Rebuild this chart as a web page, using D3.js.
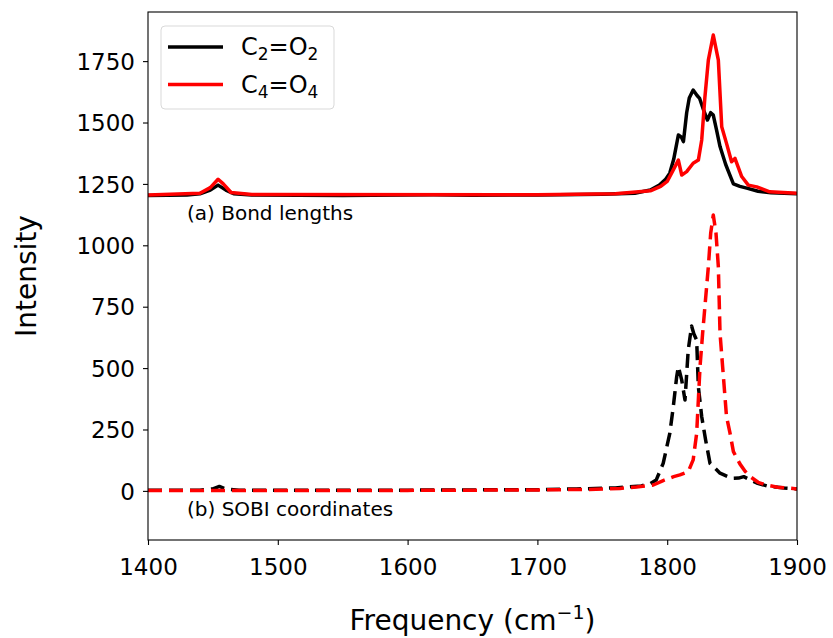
<!DOCTYPE html>
<html>
<head>
<meta charset="utf-8">
<script src="https://cdn.jsdelivr.net/npm/d3@7"></script>
<style>
  body { margin: 0; background: #fff; }
  text { font-family: "DejaVu Sans", sans-serif; fill: #000; }
</style>
</head>
<body>
<script>
let width = 833;
let height = 638;
let margin = { top: 12, right: 36, bottom: 98, left: 148 };

// (a) bond lengths, C2=O2 (black, solid)
let bondC2Freq = [1400, 1430, 1440, 1448, 1454, 1460, 1466, 1480, 1550, 1620, 1650, 1700, 1750, 1775, 1787, 1794, 1799, 1802, 1805, 1808.6, 1811, 1812.5, 1815, 1817, 1820, 1823, 1825, 1828, 1831, 1833.5, 1835.5, 1838, 1840.7, 1845, 1848, 1851, 1856, 1862, 1870, 1880, 1900];
let bondC2Val = [1203, 1205, 1210, 1225, 1245, 1225, 1210, 1205, 1203, 1206, 1204, 1205, 1208, 1212, 1225, 1245, 1270, 1294, 1350, 1449, 1440, 1422, 1540, 1600, 1632, 1610, 1598, 1551, 1510, 1540, 1530, 1470, 1402, 1330, 1290, 1250, 1240, 1232, 1220, 1214, 1210];

// (a) bond lengths, C4=O4 (red, solid)
let bondC4Freq = [1400, 1440, 1448, 1454, 1458, 1464, 1480, 1700, 1760, 1787, 1795, 1800, 1804, 1808.6, 1811.2, 1815, 1820, 1824, 1826.6, 1829, 1831.7, 1835.5, 1839.4, 1842, 1845.7, 1849.6, 1852.2, 1857.4, 1862.5, 1869, 1879, 1900];
let bondC4Val = [1205, 1212, 1235, 1269, 1250, 1215, 1207, 1206, 1210, 1222, 1240, 1260, 1300, 1347, 1286, 1300, 1334, 1347, 1429, 1600, 1754, 1856, 1754, 1483, 1415, 1340, 1354, 1280, 1245, 1238, 1218, 1212];

// (b) SOBI coordinates, C2=O2 (black, dashed)
let sobiC2Freq = [1400, 1440, 1450, 1455, 1460, 1470, 1600, 1700, 1730, 1760, 1780, 1787, 1791.5, 1796.9, 1802, 1804.7, 1807.3, 1808.6, 1811.2, 1813.7, 1816.2, 1818.8, 1820.5, 1822.7, 1824, 1826.6, 1829.6, 1833, 1840.7, 1845, 1850, 1855, 1859, 1864, 1869, 1877, 1890, 1900];
let sobiC2Val = [3, 3, 8, 18, 8, 3, 3, 5, 8, 12, 20, 30, 44, 112, 234, 343, 465, 506, 451, 370, 574, 671, 640, 614, 424, 302, 207, 112, 72, 62, 51, 52, 58, 45, 32, 20, 12, 8];

// (b) SOBI coordinates, C4=O4 (red, dashed)
let sobiC4Freq = [1400, 1500, 1600, 1700, 1740, 1763.6, 1776.4, 1789.3, 1796.9, 1805, 1809.8, 1816.2, 1820, 1822.7, 1825.3, 1827.3, 1831.7, 1833.5, 1835.5, 1837.6, 1839.4, 1840.7, 1842.7, 1845.7, 1848.4, 1851, 1856, 1860, 1864, 1870, 1876, 1885, 1892, 1900];
let sobiC4Val = [2, 2, 2, 4, 6, 10, 16, 24, 42, 58, 65, 78, 126, 234, 506, 642, 913, 1049, 1123, 1049, 913, 642, 506, 302, 235, 160, 110, 80, 58, 35, 24, 15, 12, 8];

let xTicks = [1400, 1500, 1600, 1700, 1800, 1900];
let yTicks = [0, 250, 500, 750, 1000, 1250, 1500, 1750];
let legendLabels = [["C", "2", "=O", "2"], ["C", "4", "=O", "4"]];

let svg = d3.select("body").append("svg")
  .attr("width", width)
  .attr("height", height);

let x = d3.scaleLinear().domain([1400, 1900]).range([margin.left, width - margin.right]);
let y = d3.scaleLinear().domain([-200, 1950]).range([height - margin.bottom, margin.top]);

let line = d3.line().x(d => x(d[0])).y(d => y(d[1]));

let series = [
  { f: bondC2Freq, v: bondC2Val, color: "#000", dash: null },
  { f: bondC4Freq, v: bondC4Val, color: "#ff0000", dash: null },
  { f: sobiC2Freq, v: sobiC2Val, color: "#000", dash: "14,7" },
  { f: sobiC4Freq, v: sobiC4Val, color: "#ff0000", dash: "14,7" }
];

svg.append("defs").append("clipPath").attr("id", "clip")
  .append("rect")
  .attr("x", margin.left).attr("y", margin.top)
  .attr("width", width - margin.left - margin.right)
  .attr("height", height - margin.top - margin.bottom);

let plot = svg.append("g").attr("clip-path", "url(#clip)");

series.forEach(s => {
  plot.append("path")
    .datum(s.f.map((f, i) => [f, s.v[i]]))
    .attr("fill", "none")
    .attr("stroke", s.color)
    .attr("stroke-width", 3.5)
    .attr("stroke-linejoin", "round")
    .attr("stroke-dasharray", s.dash)
    .attr("d", line);
});

// axes
let xAxis = svg.append("g")
  .attr("transform", `translate(0,${height - margin.bottom})`)
  .call(d3.axisBottom(x).tickValues(xTicks).tickFormat(d3.format("d")).tickSize(5).tickPadding(8));
let yAxis = svg.append("g")
  .attr("transform", `translate(${margin.left},0)`)
  .call(d3.axisLeft(y).tickValues(yTicks).tickFormat(d3.format("d")).tickSize(5).tickPadding(8));

[xAxis, yAxis].forEach(a => {
  a.select(".domain").remove();
  a.selectAll(".tick line").attr("stroke", "#000").attr("stroke-width", 1.1);
  a.selectAll(".tick text").style("font-family", "DejaVu Sans").style("font-size", "23px").attr("fill", "#000");
});
xAxis.selectAll(".tick text").attr("dy", "0.95em");
yAxis.selectAll(".tick text").attr("dy", "0.36em");

// frame
svg.append("rect")
  .attr("x", margin.left).attr("y", margin.top)
  .attr("width", width - margin.left - margin.right)
  .attr("height", height - margin.top - margin.bottom)
  .attr("fill", "none")
  .attr("stroke", "#000")
  .attr("stroke-width", 1.1);

// axis labels
let xl = svg.append("text")
  .attr("x", (margin.left + width - margin.right) / 2)
  .attr("y", 630)
  .attr("text-anchor", "middle")
  .style("font-size", "28px");
xl.append("tspan").text("Frequency (cm");
xl.append("tspan").attr("dy", -11).style("font-size", "19px").text("\u22121");
xl.append("tspan").attr("dy", 11).text(")");

svg.append("text")
  .attr("transform", `translate(36,${(margin.top + height - margin.bottom) / 2}) rotate(-90)`)
  .attr("text-anchor", "middle")
  .style("font-size", "28px")
  .text("Intensity");

// panel annotations
svg.append("text").attr("x", 187).attr("y", 220).style("font-size", "20px").text("(a) Bond lengths");
svg.append("text").attr("x", 187).attr("y", 516).style("font-size", "20px").text("(b) SOBI coordinates");

// legend
let lg = svg.append("g");
lg.append("rect")
  .attr("x", 161).attr("y", 26)
  .attr("width", 173).attr("height", 83)
  .attr("rx", 4)
  .attr("fill", "#fff")
  .attr("fill-opacity", 0.8)
  .attr("stroke", "#d9d9d9");

legendLabels.forEach((lab, i) => {
  let ly = 47 + i * 37.5;
  lg.append("line")
    .attr("x1", 168).attr("x2", 223)
    .attr("y1", ly).attr("y2", ly)
    .attr("stroke", i === 0 ? "#000" : "#ff0000")
    .attr("stroke-width", 3.5);
  let t = lg.append("text")
    .attr("x", 241).attr("y", ly + 8)
    .style("font-size", "24px");
  t.append("tspan").text(lab[0]);
  t.append("tspan").attr("dy", 5).style("font-size", "17px").text(lab[1]);
  t.append("tspan").attr("dy", -5).text(lab[2]);
  t.append("tspan").attr("dy", 5).style("font-size", "17px").text(lab[3]);
});
</script>
</body>
</html>
